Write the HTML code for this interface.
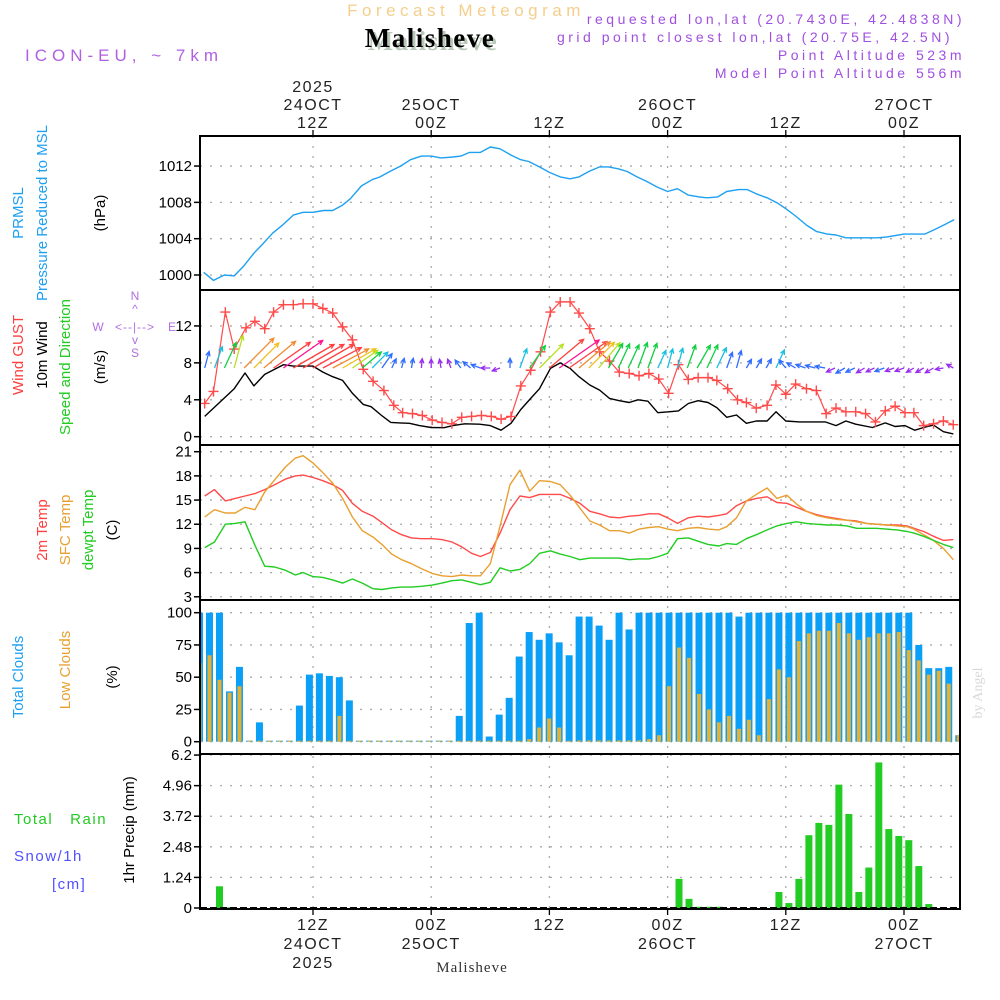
<!DOCTYPE html>
<html><head><meta charset="utf-8"><title>Meteogram Malisheve</title>
<style>
html,body{margin:0;padding:0;background:#fff;}
svg{display:block;font-family:"Liberation Sans",sans-serif;}
</style></head>
<body>
<svg id="chart" xmlns="http://www.w3.org/2000/svg" width="1000" height="1000" viewBox="0 0 1000 1000">
<rect x="0" y="0" width="1000" height="1000" fill="#fff"/>
<text x="466" y="16" text-anchor="middle" font-size="17" fill="#f4cf8c" letter-spacing="4.5">Forecast Meteogram</text>
<text x="433" y="50" text-anchor="middle" font-size="27" font-weight="bold" font-family="Liberation Serif, serif" fill="#b8c8b8" letter-spacing="1.5">Malisheve</text>
<text x="430" y="47" text-anchor="middle" font-size="27" font-weight="bold" font-family="Liberation Serif, serif" fill="#000" letter-spacing="1.5">Malisheve</text>
<text x="25" y="61" font-size="17" fill="#b060e0" letter-spacing="5">ICON-EU, ~ 7km</text>
<g font-size="14" fill="#a050e0" text-anchor="end" letter-spacing="3.5">
<text x="965" y="24">requested lon,lat (20.7430E, 42.4838N)</text>
<text x="953" y="42">grid point closest lon,lat (20.75E, 42.5N)</text>
<text x="965" y="60">Point Altitude 523m</text>
<text x="965" y="78">Model Point Altitude 556m</text>
</g>
<g id="gridlayer"></g>
<g id="marks"></g>
<g id="frames"></g>
<g id="labels"></g>
<g font-size="15">
<text transform="translate(23,213) rotate(-90)" text-anchor="middle" fill="#1ea0f0">PRMSL</text>
<text transform="translate(47,213) rotate(-90)" text-anchor="middle" fill="#1ea0f0">Pressure Reduced to MSL</text>
<text transform="translate(105,213) rotate(-90)" text-anchor="middle" fill="#000">(hPa)</text>
<text transform="translate(23,355) rotate(-90)" text-anchor="middle" fill="#ff4040">Wind GUST</text>
<text transform="translate(47,355) rotate(-90)" text-anchor="middle" fill="#000">10m Wind</text>
<text transform="translate(70,367) rotate(-90)" text-anchor="middle" fill="#22cc22">Speed and Direction</text>
<text transform="translate(105,367) rotate(-90)" text-anchor="middle" fill="#000">(m/s)</text>
<text transform="translate(47,530) rotate(-90)" text-anchor="middle" fill="#ff4040">2m Temp</text>
<text transform="translate(70,530) rotate(-90)" text-anchor="middle" fill="#e8a030">SFC Temp</text>
<text transform="translate(93,530) rotate(-90)" text-anchor="middle" fill="#22cc22">dewpt Temp</text>
<text transform="translate(117,530) rotate(-90)" text-anchor="middle" fill="#000">(C)</text>
<text transform="translate(23,677) rotate(-90)" text-anchor="middle" fill="#1ea0f0">Total Clouds</text>
<text transform="translate(70,670) rotate(-90)" text-anchor="middle" fill="#e8a030">Low Clouds</text>
<text transform="translate(117,677) rotate(-90)" text-anchor="middle" fill="#000">(%)</text>
<text x="14" y="824" fill="#22cc22" letter-spacing="1.5">Total&#160;&#160;&#160;Rain</text>
<text x="14" y="861" fill="#5050ff" letter-spacing="1.5">Snow/1h</text>
<text x="52" y="889" fill="#5050ff" letter-spacing="1.5">[cm]</text>
<text transform="translate(134,830) rotate(-90)" text-anchor="middle" fill="#000">1hr Precip (mm)</text>
</g>
<g font-size="12" fill="#b070e0" text-anchor="middle">
<text x="135" y="300">N</text>
<text x="135" y="313">^</text>
<text x="98" y="331">W</text>
<text x="135" y="331" letter-spacing="1">&lt;--|--&gt;</text>
<text x="172" y="331">E</text>
<text x="135" y="344">v</text>
<text x="135" y="357">S</text>
</g>
<text x="472" y="972" text-anchor="middle" font-size="15" font-family="Liberation Serif, serif" fill="#333" letter-spacing="1">Malisheve</text>
<text transform="translate(982,693) rotate(-90)" text-anchor="middle" font-size="14" font-family="Liberation Serif, serif" fill="#d8d8d8">by Angel</text>
</svg>
<script>
// ---------- data ----------
const presT = [0.9,1.9,3,4,4.9,6,6.8,7.9,8.9,10,11,12,13.1,14,15,15.8,16.9,18,18.8,19.8,20.9,21.9,23,24,25,26.2,27,27.9,29,30,31,32.1,33.1,33.9,35,36,37.1,38.1,39,40,41.1,42,43,43.9,44.9,45.9,46.9,48,49,50.1,51.2,52,53.1,54,55.2,56.1,57.1,58.1,59.2,60,61,62.1,63.1,64.2,65.1,66.1,67.2,68.2,69.3,70.3,72,73.1,74.1,75.1,76.2,77.1];
const presV = [1000.3,999.4,1000,999.9,1000.9,1002.4,1003.3,1004.6,1005.5,1006.6,1006.9,1006.9,1007.1,1007.1,1007.7,1008.4,1009.8,1010.5,1010.8,1011.4,1012.0,1012.7,1013.1,1013.1,1012.9,1013.0,1013.1,1013.5,1013.5,1014.1,1013.9,1013.2,1012.7,1012.5,1011.9,1011.3,1010.8,1010.6,1010.8,1011.4,1011.9,1011.9,1011.7,1011.4,1010.8,1010.3,1009.7,1009.2,1009.5,1008.8,1008.6,1008.5,1008.6,1009.2,1009.4,1009.4,1008.9,1008.5,1007.9,1007.3,1006.5,1005.5,1004.8,1004.5,1004.4,1004.1,1004.1,1004.1,1004.1,1004.2,1004.5,1004.5,1004.5,1005.0,1005.6,1006.1];
const presTicks = [1000,1004,1008,1012];

const gustT = [1,1.9,3.1,4,5.2,6.1,7.1,8,9,10,11,12,13,14,15,16,17.1,18.1,19.2,20.2,21.1,22.1,23.1,24.1,25.1,26.1,27.1,28.1,29.1,30.1,31.1,32.1,33.1,34.1,35.1,36.1,37.1,38.1,39,40.1,41.1,42.1,43.1,44.1,45.1,46.1,47.1,48.1,49.1,50.1,51.1,52.1,53,54.1,55.1,56,57,58.1,59,60,61,62.1,63.1,64.1,65.1,66.1,67.1,68.1,69.1,70.1,71.1,72.1,73,74,75,76,77];
const gustV = [3.6,4.9,13.5,9.5,11.8,12.5,11.7,13.5,14.3,14.3,14.4,14.4,13.9,13.4,11.9,10.5,7.3,6.0,5.0,3.4,2.6,2.5,2.3,1.8,1.55,1.4,2.1,2.2,2.3,2.2,1.9,2.2,5.5,7.2,9.2,13.5,14.6,14.6,13.4,11.7,9.2,8.2,7.0,6.85,6.6,6.85,6.25,4.7,7.8,6.2,6.4,6.4,6.1,5.2,4.0,3.7,3.1,3.4,5.6,4.6,5.7,5.2,5.0,2.5,3.1,2.7,2.7,2.5,1.6,2.8,3.3,2.6,2.6,1.2,1.4,1.7,1.3];
const windT = [1,4,5.1,6,7.1,9,10,12,13,14,15,16,17.1,17.9,18.9,19.9,20.8,21.8,22.8,24,25.3,26.2,27.4,28.9,30,31.1,32.1,33.1,34.1,35,36.1,37.1,38.1,39,40.1,41.1,42.1,43.1,44.1,45,46,47,48.1,49.1,50.1,51.1,52.1,53,54,55,56,57,58.1,59,60,61.4,64,65.1,66.1,67.1,68.8,70.1,71.1,72.1,73.1,74,75,76,77];
const windV = [2.2,5.2,6.9,5.5,6.75,7.8,7.65,7.65,7.0,6.5,6.1,4.7,3.5,3.25,2.35,1.55,1.5,1.45,1.2,1.0,0.97,1.2,1.4,1.35,1.2,0.7,1.45,2.95,4.15,5.2,7.4,8.0,7.4,6.5,5.6,5.05,4.15,3.9,3.7,4.0,3.85,2.6,2.7,2.8,3.6,3.9,3.7,3.15,2.1,2.35,1.45,1.7,1.7,2.7,1.7,1.6,1.6,1.2,1.7,1.35,1.0,1.5,1.1,1.2,0.7,1.0,1.26,0.54,0.3];
const arrowT = [1,2,3,4,5,6,7,8,9,10,11,12,13,14,15,16,17,18,19,20,21,22,23,24,25,26,27,28,29,30,31,32,33,34,35,36,37,38,39,40,41,42,43,44,45,46,47,48,49,50,51,52,53,54,55,56,57,58,59,60,61,62,63,64,65,66,67,68,69,70,71,72,73,74,75,76,77];
const arrowDir = [15,20,25,15,45,45,50,55,55,60,60,60,62,62,60,55,50,45,35,25,15,10,5,0,-10,-20,-35,-50,-70,-90,-110,0,20,35,45,50,55,55,50,45,40,30,25,25,20,20,25,15,15,20,30,25,25,20,15,30,30,30,25,-40,-60,-70,-75,-80,-115,-120,-115,-120,-115,-110,-110,-110,-120,-120,-120,-100,-60];
const windTicks = [0,4,8,12];

const tempT = [1,2,3.1,4.1,5.1,6.1,7.1,8.1,9.2,10.2,11,12,13,14,15,16,17,18.1,19,20,21,22,23,24.1,25.1,26.1,27.1,28.1,29,30,31,32,33,34,35,36.1,37.1,38.1,39.1,40.1,41.1,42.1,43.1,44.1,45.1,46.1,47.1,48,49,50.1,51.1,52.1,53.2,54,55,56,57,58.1,59.1,60.1,61.1,62.1,63.1,64.2,65.2,66.2,67.2,68.2,69.2,70.2,71.3,72.3,73,74,75,76,77];
const t2mV = [15.5,16.3,14.9,15.2,15.5,15.8,16.3,16.9,17.6,18.0,18.1,17.8,17.4,16.9,16.2,14.6,13.6,13.0,12.2,11.3,10.7,10.3,10.2,10.2,10.1,9.8,9.2,8.4,8.0,8.5,10.9,13.8,15.5,15.3,15.7,15.7,15.7,15.2,14.6,13.6,13.3,12.9,12.8,13.0,13.1,13.3,13.3,12.8,12.1,12.8,13.0,12.9,13.1,13.3,14.3,14.9,15.2,15.4,14.7,14.6,14.1,13.6,13.2,12.9,12.7,12.5,12.4,12.1,12.0,11.9,11.9,11.8,11.5,11.1,10.5,10.0,10.1];
const sfcV = [12.9,13.8,13.4,13.4,14.1,13.8,16.0,17.5,19.1,20.2,20.5,19.6,18.4,17.1,15.2,12.9,11.2,10.4,9.5,8.3,7.6,7.1,6.5,5.9,5.6,5.5,5.7,5.6,5.6,7.1,11.8,16.9,18.7,16.1,17.4,17.3,16.9,15.6,14.0,12.4,11.9,11.2,11.2,10.9,11.4,11.6,11.7,11.4,11.2,11.5,11.6,11.4,11.3,11.7,12.8,14.9,15.7,16.5,15.2,15.6,14.5,13.6,13.1,12.8,12.6,12.5,12.3,12.1,12.0,11.9,11.8,11.7,11.4,10.7,10.0,9.0,7.6];
const dewV = [9.1,9.8,12.0,12.1,12.3,9.4,6.8,6.7,6.3,5.7,6.0,5.5,5.4,5.1,4.7,5.2,4.7,4.0,3.9,4.1,4.2,4.2,4.3,4.45,4.7,5.0,5.1,4.8,4.5,4.8,6.6,6.2,6.4,7.1,8.4,8.7,8.3,8.0,7.6,7.8,7.8,7.8,7.8,7.6,7.7,7.7,8.0,8.4,10.2,10.3,9.9,9.5,9.3,9.6,9.5,10.2,10.7,11.3,11.8,12.1,12.3,12.1,12.0,11.9,11.9,11.8,11.5,11.5,11.5,11.4,11.3,11.1,10.9,10.5,10.0,9.5,9.1];
const tempTicks = [3,6,9,12,15,18,21];

const cloudTotal = [100,100,100,39,58,0,15,0,0,0,28,52,53,51,50,32,0,0,0,0,0,0,0,0,0,0,20,92,100,4,21,34,66,85,79,84,77,67,97,97,90,79,100,87,100,100,100,100,100,100,100,100,100,100,97,100,100,100,100,100,100,100,100,100,100,100,100,100,100,100,100,100,75,57,57,58,5];
const cloudLow = [61,67,48,38,43,0,0,0,0,0,0,0,0,0,20,0,0,0,0,0,0,0,0,0,0,0,0,0,0,0,0,0,0,2,11,18,11,0,1,1,1,1,1,1,1,2,5,43,73,65,37,25,15,20,10,17,5,33,56,50,78,84,86,86,92,84,79,81,84,84,85,71,63,52,55,45,5];
const cloudTicks = [0,25,50,75,100];
const precip = [0,0,0.88,0.03,0,0,0,0,0,0,0,0,0,0,0,0,0,0,0,0,0,0,0,0,0,0,0,0,0,0,0,0,0,0,0,0,0,0,0,0,0,0,0,0,0,0,0,0,1.18,0.37,0.05,0.05,0.05,0,0,0,0,0,0.65,0.2,1.18,2.95,3.45,3.37,5.0,3.81,0.65,1.64,5.9,3.2,2.92,2.75,1.7,0.16,0,0,0];
const precipTicks = [0,1.24,2.48,3.72,4.96,6.2];
const timeTicks = [12,24,36,48,60,72];
const topLabels = [["2025","24OCT","12Z"],["","25OCT","00Z"],["","","12Z"],["","26OCT","00Z"],["","","12Z"],["","27OCT","00Z"]];
const bottomLabels = [["12Z","24OCT","2025"],["00Z","25OCT",""],["12Z","",""],["00Z","26OCT",""],["12Z","",""],["00Z","27OCT",""]];

// ---------- scales ----------
const X0=200, X1=960;
function X(t){return 313+(t-12)*9.85;}
function BX(k){return 196+k*9.99;}
function yP(v){return 275-(v-1000)*9.08;}
function yW(v){return 436.7-v*9.23;}
function yT(v){return 451.7+(21-v)*8.06;}
function yC(v){return 741.7-v*1.29;}
function yR(v){return 908-v*24.67;}
const panels=[[136,290],[290,445],[445,600],[600,754],[754,909]];

const NS="http://www.w3.org/2000/svg";
function el(tag,attrs,parent){const e=document.createElementNS(NS,tag);for(const k in attrs)e.setAttribute(k,attrs[k]);parent.appendChild(e);return e;}
const grid=document.getElementById('gridlayer'), marks=document.getElementById('marks'), frames=document.getElementById('frames'), labels=document.getElementById('labels');

const defs=el('defs',{},document.getElementById('chart'));
const cp=el('clipPath',{id:'plotclip'},defs);
el('rect',{x:X0,y:136,width:X1-X0,height:773},cp);
marks.setAttribute('clip-path','url(#plotclip)');

function hgrid(ticks,yf,fmt,name){
  ticks.forEach(v=>{
    const y=yf(v);
    const g=el('line',{x1:X0,x2:X1,y1:y,y2:y,stroke:'#aaa','stroke-width':1.3,'stroke-dasharray':'2 8'},grid);
    
    
    const t=el('text',{x:192,y:y+5,'text-anchor':'end','font-size':15,fill:'#000'},labels);
    t.textContent=fmt(v);
    
    
    const tk=el('line',{x1:194,x2:200,y1:y,y2:y,stroke:'#000','stroke-width':1.5},frames);
    
    
  });
}
hgrid(presTicks,yP,v=>String(v),'pressure-axis');
hgrid(windTicks,yW,v=>String(v),'wind-axis');
hgrid(tempTicks,yT,v=>String(v),'temp-axis');
hgrid(cloudTicks,yC,v=>String(v),'cloud-axis');
hgrid(precipTicks,yR,v=>String(v),'precip-axis');
timeTicks.forEach((t,i)=>{
  const x=X(t);
  const g=el('line',{x1:x,x2:x,y1:136,y2:909,stroke:'#aaa','stroke-width':1.3,'stroke-dasharray':'2 8'},grid);
  
  
  el('line',{x1:x,x2:x,y1:130,y2:136,stroke:'#000','stroke-width':1.3},frames);
  el('line',{x1:x,x2:x,y1:909,y2:915,stroke:'#000','stroke-width':1.3},frames);
  topLabels[i].forEach((s,j)=>{ if(!s)return;
    const tx=el('text',{x:x,y:92+j*18,'text-anchor':'middle','font-size':16,fill:'#222','letter-spacing':'1.5'},labels);
    tx.textContent=s;
    
    
  });
  bottomLabels[i].forEach((s,j)=>{ if(!s)return;
    const tx=el('text',{x:x,y:930+j*19,'text-anchor':'middle','font-size':16,fill:'#222','letter-spacing':'1.5'},labels);
    tx.textContent=s;
    
    
  });
});

panels.forEach(p=>{
  const r=el('rect',{x:X0,y:p[0],width:X1-X0,height:p[1]-p[0],fill:'none',stroke:'#000','stroke-width':2},frames);
  
  
});

function line(ts,vs,yf,color,name,w){
  const d=ts.map((t,i)=>(i?'L':'M')+X(t).toFixed(1)+','+yf(vs[i]).toFixed(1)).join('');
  const p=el('path',{d:d,fill:'none',stroke:color,'stroke-width':w||1.4,'stroke-linejoin':'round'},marks);
  
  
  return p;
}
line(presT,presV,yP,'#1ea0f0','pressure-line');
line(windT,windV,yW,'#000','wind-10m-line');
line(gustT,gustV,yW,'#ff4a4a','wind-gust-line',1.2);
gustT.forEach((t,i)=>{
  const x=X(t),y=yW(gustV[i]);
  const m=el('path',{d:`M${x-5},${y}H${x+5}M${x},${y-5}V${y+5}`,stroke:'#ff4a4a','stroke-width':1.4},marks);
  
  
});
function interp(ts,vs,t){if(t<=ts[0])return vs[0];for(let i=1;i<ts.length;i++){if(t<=ts[i]){const f=(t-ts[i-1])/(ts[i]-ts[i-1]);return vs[i-1]+f*(vs[i]-vs[i-1]);}}return vs[vs.length-1];}
function spdColor(s){
  if(s<1.3)return '#9a2cf0'; if(s<2.4)return '#2f6cff'; if(s<3.4)return '#18c0e0'; if(s<4.5)return '#10d040';
  if(s<5.4)return '#b8e020'; if(s<6.3)return '#f0c020'; if(s<7.0)return '#f08c30'; if(s<7.7)return '#ff4040'; return '#ff1090';
}
arrowT.forEach((t,i)=>{
  const s=interp(windT,windV,t);
  const len=s<2?7+s*2:5+s*5.5;
  const a=arrowDir[i]*Math.PI/180;
  const x0=X(t),y0=368;
  const x1=x0+Math.sin(a)*len,y1=y0-Math.cos(a)*len;
  const hl=5;
  const ha1=a+Math.PI-0.45, ha2=a+Math.PI+0.45;
  const d=`M${x0.toFixed(1)},${y0}L${x1.toFixed(1)},${y1.toFixed(1)}M${(x1+Math.sin(ha1)*hl).toFixed(1)},${(y1-Math.cos(ha1)*hl).toFixed(1)}L${x1.toFixed(1)},${y1.toFixed(1)}L${(x1+Math.sin(ha2)*hl).toFixed(1)},${(y1-Math.cos(ha2)*hl).toFixed(1)}`;
  const p=el('path',{d:d,fill:'none',stroke:spdColor(s),'stroke-width':1.3},marks);
  
  
});
line(tempT,t2mV,yT,'#ff4a4a','temp-2m-line');
line(tempT,sfcV,yT,'#e8a030','temp-sfc-line');
line(tempT,dewV,yT,'#22cc22','dewpoint-line');
cloudTotal.forEach((v,k)=>{
  const x=BX(k),y=yC(v);
  const r=el('rect',{x:x,y:Math.min(y,yC(0)-1),width:7,height:Math.max(yC(0)-y,1),fill:'#0aa0f8'},marks);
  
  
});
cloudLow.forEach((v,k)=>{
  const x=BX(k)+1.5,y=yC(v);
  const r=el('rect',{x:x,y:Math.min(y,yC(0)-1),width:4,height:Math.max(yC(0)-y,1),fill:'#e8b030'},marks);
  
  
});
precip.forEach((v,k)=>{
  if(v<=0)return;
  const x=BX(k),y=yR(v);
  const r=el('rect',{x:x,y:y,width:7,height:yR(0)-y,fill:'#22cc22'},marks);
  
  
});
el('line',{x1:X0,x2:X1,y1:yR(0),y2:yR(0),stroke:'#000','stroke-width':2,'stroke-dasharray':'7 3'},frames);
</script>
</body></html>
